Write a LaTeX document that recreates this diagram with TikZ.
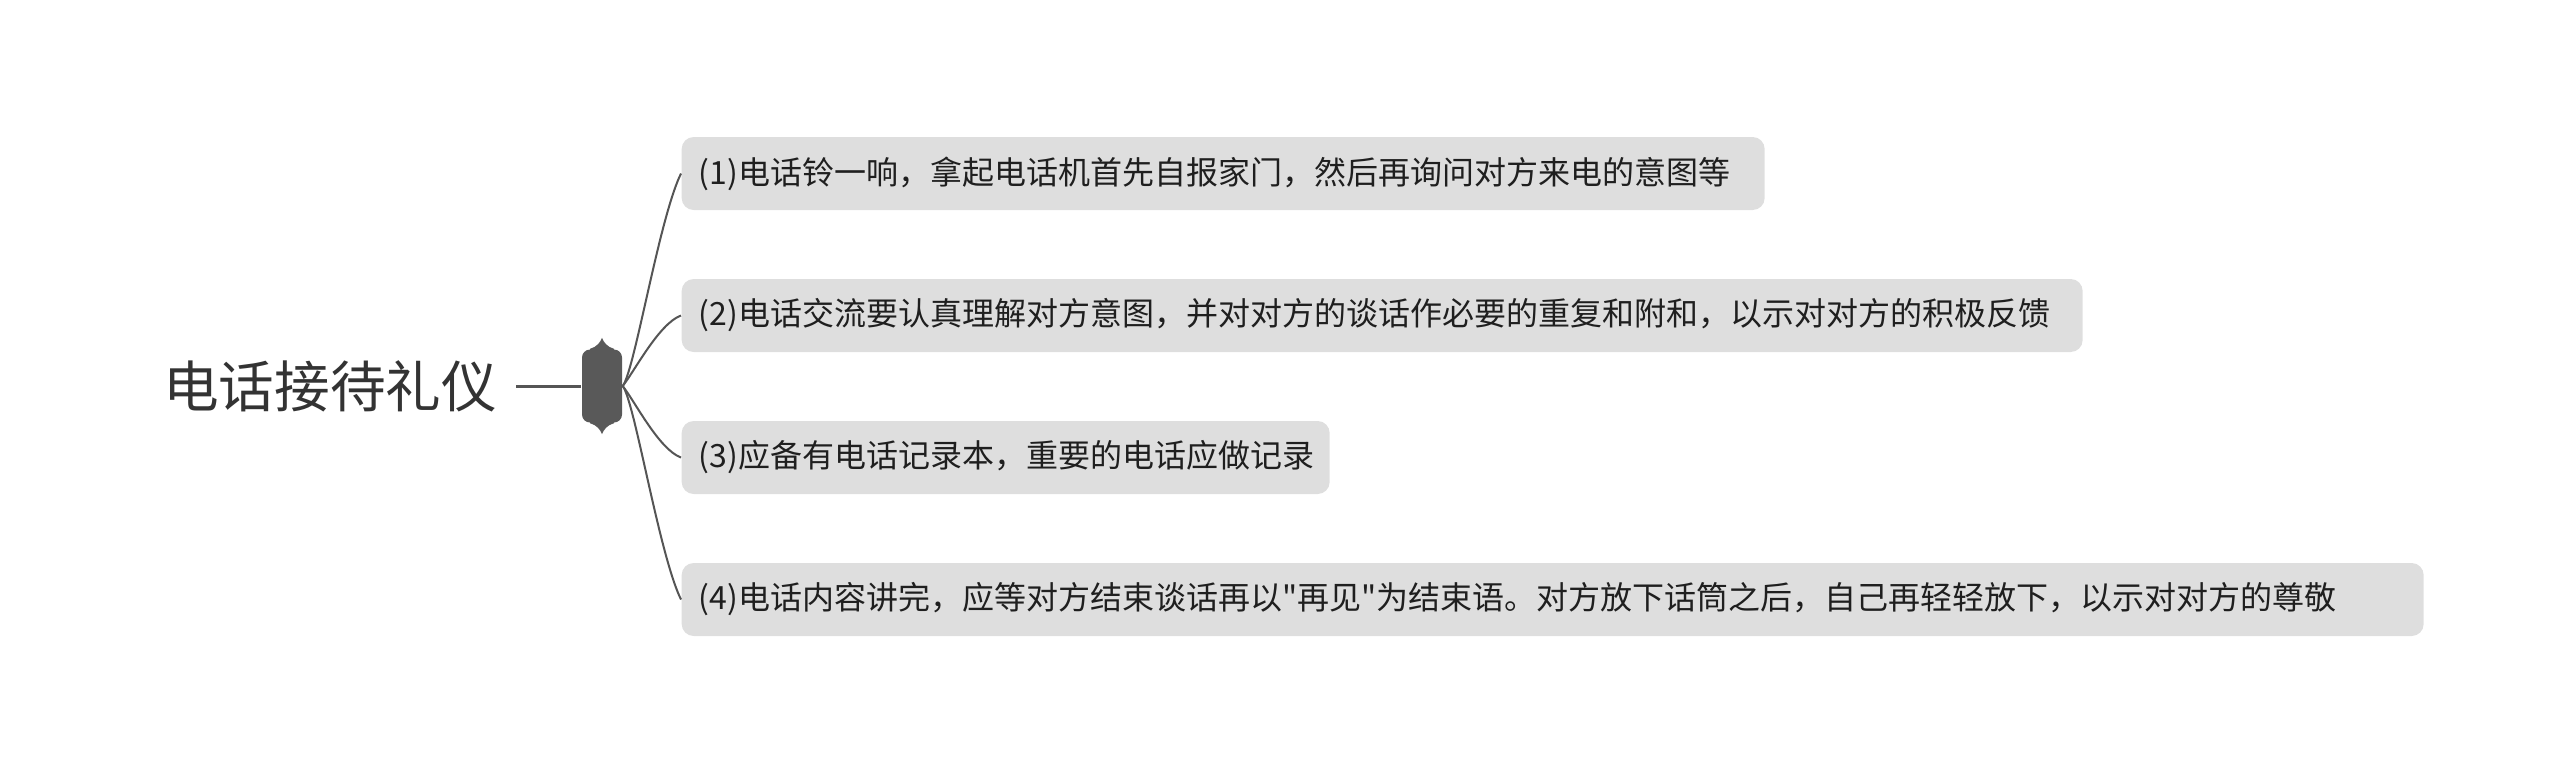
\documentclass[tikz,border=0pt]{standalone}
\usepackage{fontspec}
\usepackage{xcolor}
\usepackage{tikz}
\newfontfamily\cjk{Noto Sans CJK SC}

\definecolor{boxgray}{HTML}{DEDEDE}
\definecolor{linegray}{HTML}{555555}
\definecolor{titlegray}{HTML}{333333}
\definecolor{hubgray}{HTML}{595959}

\begin{document}
\begin{tikzpicture}[x=0.3pt,y=-0.3pt,
    topic/.style={text=titlegray,inner xsep=5.6pt,inner ysep=0pt,
        font=\cjk\fontsize{16.7pt}{16.7pt}\selectfont},
    hubbox/.style={fill=hubgray,rounded corners=2.4pt,inner sep=0pt,
        minimum width=12pt,minimum height=21.9pt},
    leaf/.style={anchor=west,fill=boxgray,rounded corners=3.6pt,
        inner xsep=5.1pt,inner ysep=0pt,minimum height=21.9pt,align=left,
        text=black!88,font=\cjk\fontsize{9.6pt}{9.6pt}\selectfont},
    trunk/.style={draw=linegray,line width=0.9pt},
    branch/.style={draw=linegray,line width=0.6pt}]
                \useasboundingbox (0,0) rectangle (2560,773);

                % Root and hub
                \node[topic] (root) at (330,386) {电话接待礼仪};
                \node[hubbox] (hub) at (602,386) {};
                \fill[hubgray,shift={(hub.north)}] (-3.6pt,-0.5pt) -- (-3.6pt,0pt)
                    .. controls (-1.5pt,0.6pt) and (-0.5pt,2pt) .. (0pt,3.3pt)
                    .. controls (0.5pt,2pt) and (1.5pt,0.6pt) .. (3.6pt,0pt)
                    -- (3.6pt,-0.5pt) -- cycle;
                \fill[hubgray,shift={(hub.south)}] (-3.6pt,0.5pt) -- (-3.6pt,0pt)
                    .. controls (-1.5pt,-0.6pt) and (-0.5pt,-2pt) .. (0pt,-3.3pt)
                    .. controls (0.5pt,-2pt) and (1.5pt,-0.6pt) .. (3.6pt,0pt)
                    -- (3.6pt,0.5pt) -- cycle;
                \draw[trunk] (root.east) -- (hub.west);

                % Leaves
                \node[leaf,text width=314.7pt] (b1) at (681,173.5) {(1)电话铃一响，拿起电话机首先自报家门，然后再询问对方来电的意图等};
                \node[leaf,text width=410.1pt] (b2) at (681,315.5) {(2)电话交流要认真理解对方意图，并对对方的谈话作必要的重复和附和，以示对对方的积极反馈};
                \node[leaf,text width=184.2pt] (b3) at (681,457.5) {(3)应备有电话记录本，重要的电话应做记录};
                \node[leaf,text width=512.4pt] (b4) at (681,599.5) {(4)电话内容讲完，应等对方结束谈话再以"再见"为结束语。对方放下话筒之后，自己再轻轻放下，以示对对方的尊敬};

                % Branches
                \draw[branch] (hub.east) .. controls +(12,-15) and +(-22,45) .. (b1.west);
                \draw[branch] (hub.east) .. controls +(12,-15) and +(-22,8) .. (b2.west);
                \draw[branch] (hub.east) .. controls +(12,15) and +(-22,-8) .. (b3.west);
                \draw[branch] (hub.east) .. controls +(12,15) and +(-22,-45) .. (b4.west);
            \end{tikzpicture}
\end{document}
